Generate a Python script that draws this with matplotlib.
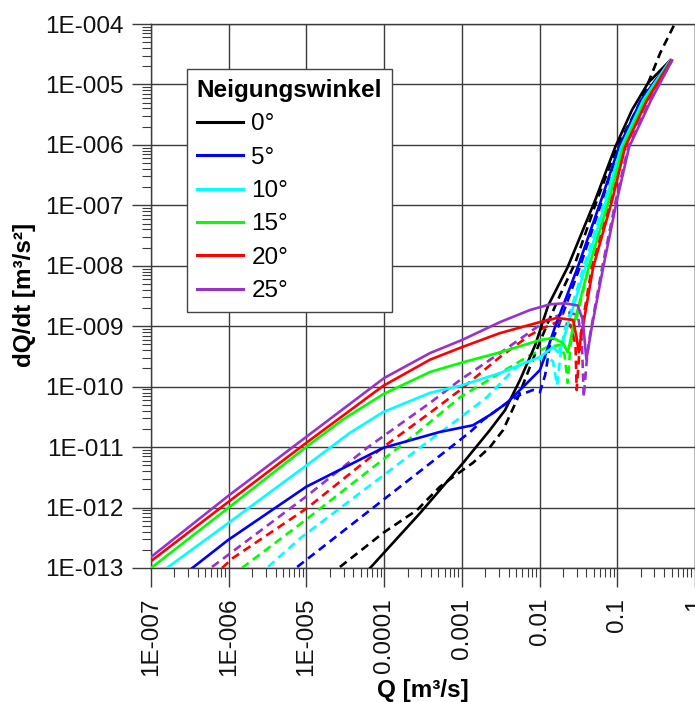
import matplotlib
matplotlib.use('Agg')
import matplotlib.pyplot as plt
from matplotlib.ticker import LogLocator, NullFormatter

plt.rcParams['font.family'] = ['Liberation Sans', 'DejaVu Sans']

angles = ['0°', '5°', '10°', '15°', '20°', '25°']
colors = ['#000000', '#0000FF', '#00FFFF', '#00FF00', '#FF0000', '#9932CC']

x_ticks = [1e-7, 1e-6, 1e-5, 1e-4, 1e-3, 1e-2, 1e-1, 1]
x_tick_labels = ['1E-007', '1E-006', '1E-005', '0.0001', '0.001', '0.01', '0.1', '1']
y_ticks = [1e-13, 1e-12, 1e-11, 1e-10, 1e-9, 1e-8, 1e-7, 1e-6, 1e-5, 1e-4]
y_tick_labels = ['1E-013', '1E-012', '1E-011', '1E-010', '1E-009', '1E-008',
                 '1E-007', '1E-006', '1E-005', '1E-004']

# 0 deg
Q_0_solid = [6.6e-5, 2.9e-4, 1.04e-3, 2.3e-3, 3.6e-3, 5.6e-3, 8.8e-3, 1.29e-2, 2.3e-2,
             5.2e-2, 9.4e-2, 0.155, 0.249, 0.479]
dQ_0_solid = [1.0e-13, 8.1e-13, 5.5e-12, 1.92e-11, 4.1e-11, 1.29e-10, 4.9e-10, 2.2e-9, 9.5e-9,
              1.22e-7, 9.2e-7, 3.8e-6, 1.06e-5, 2.5e-5]
Q_0_dashed = [2.7e-5, 9.7e-5, 2.65e-4, 5.2e-4, 7.7e-4, 1.39e-3, 2.3e-3, 3.4e-3, 5.1e-3, 7.5e-3,
              1.01e-2, 1.29e-2, 1.84e-2, 2.9e-2, 5.2e-2, 9.9e-2, 0.196, 0.356, 0.555]
dQ_0_dashed = [1.04e-13, 3.8e-13, 9.1e-13, 2.2e-12, 3.2e-12, 5.5e-12, 1.0e-11, 1.92e-11, 6.0e-11,
               2.1e-10, 5.5e-10, 1.17e-9, 3.3e-9, 1.15e-8, 1.01e-7, 9.2e-7, 4.9e-6, 3.3e-5, 1.04e-4]

# 5 deg
Q_5_solid = [3.4e-7, 9.8e-7, 9.9e-6, 2.2e-5, 9.7e-5, 5.2e-4, 1.39e-3, 2.3e-3, 3.8e-3, 6.9e-3,
             1.01e-2, 1.25e-2, 1.58e-2, 3.1e-2, 6.2e-2, 0.105, 0.202, 0.479]
dQ_5_solid = [1.0e-13, 2.9e-13, 2.2e-12, 3.7e-12, 9.7e-12, 1.78e-11, 2.3e-11, 3.4e-11, 5.4e-11,
              1.15e-10, 1.88e-10, 4.0e-10, 9.7e-10, 9.5e-9, 1.22e-7, 9.2e-7, 5.5e-6, 2.5e-5]
Q_5_dashed = [7.6e-6, 2.9e-4, 1.28e-3, 1.87e-3, 3.8e-3, 5.6e-3, 8.2e-3, 1.01e-2, 1.18e-2, 1.36e-2,
              1.73e-2, 3.3e-2, 6.4e-2, 0.105, 0.202, 0.479]
dQ_5_dashed = [1.04e-13, 4.0e-12, 1.78e-11, 2.8e-11, 5.4e-11, 7.3e-11, 8.8e-11, 8.1e-11, 1.56e-10,
               4.9e-10, 9.7e-10, 9.5e-9, 1.22e-7, 9.2e-7, 5.5e-6, 2.5e-5]

# 10 deg
Q_10_solid = [1.6e-7, 9.8e-7, 1.11e-5, 3.6e-5, 9.7e-5, 3.9e-4, 1.0e-3, 3.1e-3, 1.01e-2, 1.49e-2,
              1.73e-2, 1.95e-2, 2.26e-2, 3.9e-2, 7.2e-2, 0.112, 0.215, 0.479]
dQ_10_solid = [1.0e-13, 5.5e-13, 5.5e-12, 1.71e-11, 3.8e-11, 7.9e-11, 1.05e-10, 1.68e-10, 3.1e-10,
               4.5e-10, 3.7e-10, 4.9e-10, 9.7e-10, 9.5e-9, 1.22e-7, 9.2e-7, 5.5e-6, 2.5e-5]
Q_10_dashed = [3.2e-6, 8.3e-6, 3.9e-4, 7.7e-4, 2.1e-3, 4.2e-3, 6.1e-3, 9.3e-3, 1.29e-2, 1.49e-2,
               1.68e-2, 1.89e-2, 2.1e-2, 3.7e-2, 7.0e-2, 0.112, 0.215, 0.479]
dQ_10_dashed = [1.04e-13, 3.1e-13, 1.31e-11, 2.5e-11, 6.7e-11, 1.68e-10, 2.5e-10, 2.8e-10, 3.1e-10,
                2.6e-10, 1.06e-10, 4.0e-10, 8.6e-10, 9.5e-9, 1.22e-7, 9.2e-7, 5.5e-6, 2.5e-5]

# 15 deg
Q_15_solid = [1.0e-7, 1.0e-6, 9.9e-6, 3.0e-5, 9.7e-5, 3.9e-4, 1.0e-3, 3.1e-3, 1.01e-2, 1.49e-2,
              2.0e-2, 2.3e-2, 2.5e-2, 2.7e-2, 4.3e-2, 7.8e-2, 0.119, 0.228, 0.492]
dQ_15_solid = [1.0e-13, 1.0e-12, 1.0e-11, 2.9e-11, 7.5e-11, 1.75e-10, 2.5e-10, 3.7e-10, 5.9e-10,
               6.4e-10, 5.3e-10, 3.7e-10, 5.9e-10, 9.7e-10, 9.5e-9, 1.22e-7, 9.2e-7, 5.5e-6, 2.5e-5]
Q_15_dashed = [1.48e-6, 1.05e-5, 2.65e-4, 9.5e-4, 3.1e-3, 7.5e-3, 1.25e-2, 1.84e-2, 2.1e-2, 2.3e-2,
               2.5e-2, 2.8e-2, 4.3e-2, 7.8e-2, 0.119, 0.228, 0.492]
dQ_15_dashed = [1.0e-13, 6.7e-13, 1.71e-11, 6.7e-11, 1.68e-10, 3.3e-10, 4.5e-10, 4.9e-10, 3.3e-10,
                1.15e-10, 4.9e-10, 9.7e-10, 9.5e-9, 1.22e-7, 9.2e-7, 5.5e-6, 2.5e-5]

# 20 deg
Q_20_solid = [1.0e-7, 9.8e-7, 9.9e-6, 9.7e-5, 3.9e-4, 1.0e-3, 3.1e-3, 1.01e-2, 1.68e-2, 2.7e-2,
              3.0e-2, 3.2e-2, 3.4e-2, 3.6e-2, 4.9e-2, 8.6e-2, 0.126, 0.242, 0.492]
dQ_20_solid = [1.3e-13, 1.23e-12, 1.17e-11, 1.03e-10, 2.8e-10, 4.5e-10, 7.7e-10, 1.17e-9, 1.37e-9,
               1.27e-9, 6.4e-10, 3.7e-10, 6.6e-10, 9.7e-10, 9.5e-9, 1.22e-7, 9.2e-7, 5.5e-6, 2.5e-5]
Q_20_dashed = [8.2e-7, 1.13e-6, 1.02e-5, 9.7e-5, 3.9e-4, 9.5e-4, 3.1e-3, 7.5e-3, 1.11e-2, 1.68e-2,
               2.5e-2, 2.9e-2, 3.0e-2, 3.3e-2, 3.5e-2, 4.7e-2, 8.3e-2, 0.126, 0.242, 0.492]
dQ_20_dashed = [1.0e-13, 1.46e-13, 9.8e-13, 1.0e-11, 3.7e-11, 8.8e-11, 3.1e-10, 7.1e-10, 9.3e-10,
                1.17e-9, 1.05e-9, 4.9e-10, 8.8e-11, 4.9e-10, 9.7e-10, 9.5e-9, 1.22e-7, 9.2e-7,
                5.5e-6, 2.5e-5]

# 25 deg
Q_25_solid = [1.0e-7, 9.8e-7, 9.9e-6, 1.0e-4, 3.9e-4, 1.0e-3, 3.1e-3, 7.5e-3, 1.36e-2, 2.1e-2,
              3.1e-2, 3.6e-2, 4.0e-2, 4.3e-2, 4.7e-2, 6.6e-2, 9.9e-2, 0.142, 0.272, 0.507]
dQ_25_solid = [1.52e-13, 1.55e-12, 1.47e-11, 1.39e-10, 3.6e-10, 5.9e-10, 1.17e-9, 1.85e-9, 2.3e-9,
               2.4e-9, 2.2e-9, 1.27e-9, 2.8e-10, 4.9e-10, 9.7e-10, 9.5e-9, 1.22e-7, 9.2e-7,
               5.5e-6, 2.5e-5]
Q_25_dashed = [6.1e-7, 1.05e-5, 6.2e-5, 3.9e-4, 9.5e-4, 3.1e-3, 7.5e-3, 1.25e-2, 2.26e-2, 3.1e-2,
               3.5e-2, 3.7e-2, 4.1e-2, 4.5e-2, 6.4e-2, 9.6e-2, 0.138, 0.264, 0.507]
dQ_25_dashed = [1.04e-13, 1.61e-12, 1.0e-11, 5.4e-11, 1.29e-10, 3.6e-10, 8.0e-10, 1.27e-9, 1.72e-9,
                1.53e-9, 5.9e-10, 6.7e-11, 3.3e-10, 7.7e-10, 9.5e-9, 1.22e-7, 9.2e-7, 5.5e-6, 2.5e-5]

solid_series = [(Q_0_solid, dQ_0_solid), (Q_5_solid, dQ_5_solid), (Q_10_solid, dQ_10_solid),
                (Q_15_solid, dQ_15_solid), (Q_20_solid, dQ_20_solid), (Q_25_solid, dQ_25_solid)]
dashed_series = [(Q_0_dashed, dQ_0_dashed), (Q_5_dashed, dQ_5_dashed), (Q_10_dashed, dQ_10_dashed),
                 (Q_15_dashed, dQ_15_dashed), (Q_20_dashed, dQ_20_dashed), (Q_25_dashed, dQ_25_dashed)]

W, H = 695, 702
fig = plt.figure(figsize=(W / 100, H / 100), dpi=100)
ax = fig.add_axes([151 / W, 1 - 568 / H, (695 - 151) / W, (568 - 24) / H])

ax.set_xscale('log')
ax.set_yscale('log')
ax.set_xlim(1e-7, 1)
ax.set_ylim(1e-13, 1e-4)

gridc = '#3c3c3c'
ax.grid(True, which='major', color=gridc, linewidth=1.0)
ax.set_axisbelow(True)
for s in ax.spines.values():
    s.set_color(gridc)
    s.set_linewidth(1.0)

handles = []
for (q, d), (qd, dd), c, lab in zip(solid_series, dashed_series, colors, angles):
    ax.plot(qd, dd, color=c, linewidth=1.9, linestyle=(0, (3.2, 2.0)), zorder=3,
            solid_joinstyle='round', dash_joinstyle='round')
    h, = ax.plot(q, d, color=c, linewidth=1.9, zorder=4, label=lab,
                 solid_joinstyle='round')
    handles.append(h)

ax.set_xticks(x_ticks)
ax.set_xticklabels(x_tick_labels, rotation=90)
ax.set_yticks(y_ticks)
ax.set_yticklabels(y_tick_labels)
ax.xaxis.set_minor_locator(LogLocator(base=10, subs=range(2, 10), numticks=20))
ax.yaxis.set_minor_locator(LogLocator(base=10, subs=range(2, 10), numticks=20))
ax.xaxis.set_minor_formatter(NullFormatter())
ax.yaxis.set_minor_formatter(NullFormatter())
ax.tick_params(which='major', direction='out', length=13.5, width=1.0, color=gridc,
               labelsize=17.5, labelcolor='#111111')
ax.tick_params(axis='x', which='major', pad=8)
ax.tick_params(axis='y', which='major', pad=6)
ax.tick_params(which='minor', direction='out', length=6.5, width=0.8, color=gridc)

fig.text(25 / W, 1 - 295 / H, 'dQ/dt [m³/s²]', rotation=90, ha='center', va='center',
         fontsize=17.5, fontweight='bold')
fig.text(423 / W, 1 - 697 / H, 'Q [m³/s]', ha='center', va='baseline',
         fontsize=17.5, fontweight='bold')

leg = ax.legend(handles=handles, loc='upper left',
                bbox_to_anchor=(187 / W, 1 - 69 / H), bbox_transform=fig.transFigure,
                borderaxespad=0, borderpad=0.4, handlelength=1.9, handletextpad=0.35,
                labelspacing=0.47, fontsize=17.5, frameon=True, fancybox=False,
                edgecolor='#444444', framealpha=1, title='Neigungswinkel',
                title_fontproperties={'weight': 'bold', 'size': 17.5}, alignment='left')
leg.get_frame().set_linewidth(1.0)
for ln in leg.get_lines():
    ln.set_linewidth(2.2)

fig.savefig('out.png', dpi=100)
